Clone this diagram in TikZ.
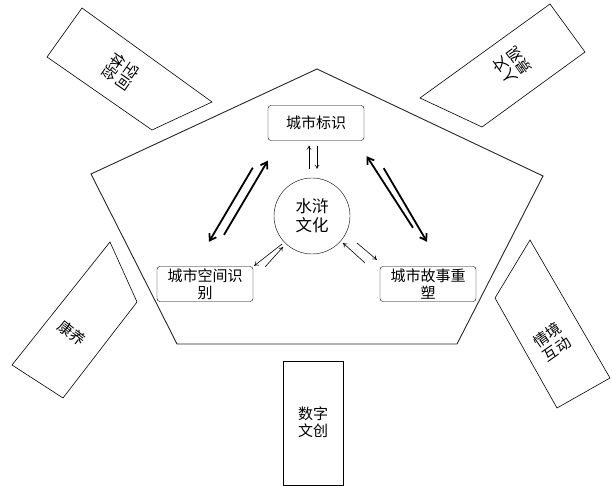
\documentclass[tikz,border=0pt]{standalone}
\usepackage{fontspec}
\setmainfont{Noto Sans CJK SC}
\usetikzlibrary{arrows.meta,calc,positioning}

\tikzset{
  idbox/.style={draw, rounded corners=3pt, minimum width=96pt, minimum height=35pt, align=center, inner sep=2pt},
  outbox/.style={draw, line width=0.6pt},
  lbl/.style={align=center, inner sep=1pt},
  thinarr/.style={-{To[length=4pt,width=5pt]}, line width=0.6pt},
  boldarr/.style={-{Straight Barb[length=6pt,width=8pt]}, line width=1.8pt},
}

\begin{document}
\begin{tikzpicture}[x=1pt, y=1pt, font=\fontsize{15}{17}\selectfont]
    \useasboundingbox (0,0) rectangle (612,486);

    % pentagon
    \draw[line width=0.9pt, black!85] (317,417) -- (543,310) -- (457,142) -- (177,142) -- (91,312) -- cycle;

    % outer boxes
    \draw[outbox] (82,478) -- (212,384) -- (152,356) -- (47,429) -- cycle;
    \draw[outbox] (550,482) -- (585,434) -- (482,359) -- (420,388) -- cycle;
    \draw[outbox] (110,244) -- (137,184) -- (63,88) -- (12,121) -- cycle;
    \draw[outbox] (530,246) -- (610,108) -- (557,78) -- (495,188) -- cycle;
    \draw[outbox] (283,1) rectangle (343,125);

    \node[lbl, rotate=-125] (space) at (121,414) {空间\\体验};
    \node[lbl, rotate=126] (human) at (512,420) {人文\\景观};
    \node[lbl, rotate=-38] (health) at (72,153) {康养};
    \node[lbl, rotate=35] (scene) at (552,144) {情境\\互动};
    \node[lbl] (digital) at (313,64) {数字\\文创};

    % inner nodes
    \node[idbox] (mark) at (316,363) {城市标识};
    \node[draw, circle, minimum size=76pt, inner sep=0pt, align=center, font=\fontsize{16.5}{19}\selectfont] (hub) at (312,270) {水浒\\文化};
    \node[idbox] (lbox) at (205,202) {城市空间识\\别};
    \node[idbox] (rbox) at (428,202) {城市故事重\\塑};

    % hub <-> nodes
    \draw[thinarr] ($(hub.north)+(-3,9)$) -- ($(mark.south)+(-7,-5)$);
    \draw[thinarr] ($(mark.south)+(1,-5)$) -- ($(hub.north)+(5,9)$);
    \draw[thinarr] ($(hub)+(-30,-28)$) -- ($(lbox.north east)+(1,0.5)$);
    \draw[thinarr] ($(lbox.north east)+(12,-0.5)$) -- ($(hub)+(-29,-31)$);
    \draw[thinarr] ($(rbox.north west)+(-15,3.5)$) -- ($(hub)+(31,-27)$);
    \draw[thinarr] ($(hub)+(45,-27)$) -- ($(rbox.north west)+(-3,6.5)$);

    % nodes <-> nodes
    \draw[boldarr] ($(mark.south west)+(-15,-27)$) -- ($(lbox.north)+(4,24.5)$);
    \draw[boldarr] ($(lbox.north)+(19,31.5)$) -- ($(mark.south west)+(0,-20)$);
    \draw[boldarr] ($(rbox.north)+(-15,38.5)$) -- ($(mark.south east)+(2.5,-15.5)$);
    \draw[boldarr] ($(mark.south east)+(19.5,-27.5)$) -- ($(rbox.north)+(-1,24.5)$);
\end{tikzpicture}
\end{document}
